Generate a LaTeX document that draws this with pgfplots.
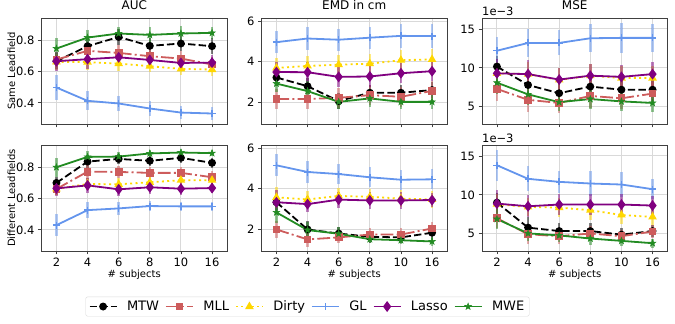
\documentclass[border=0pt]{standalone}
\usepackage{fontspec}
\setmainfont{DejaVu Sans}
\usepackage{pgfplots}
\pgfplotsset{compat=1.18}
\usetikzlibrary{plotmarks}

\definecolor{cMLL}{RGB}{205,92,92}
\definecolor{cDirty}{RGB}{255,215,0}
\definecolor{cGL}{RGB}{100,149,237}
\definecolor{cLasso}{RGB}{128,0,128}
\definecolor{cMWE}{RGB}{34,139,34}

% filled five-pointed star
\pgfdeclareplotmark{fstar}{%
  \pgfpathmoveto{\pgfqpointpolar{90}{\pgfplotmarksize}}%
  \pgfpathlineto{\pgfqpointpolar{126}{0.4\pgfplotmarksize}}%
  \pgfpathlineto{\pgfqpointpolar{162}{\pgfplotmarksize}}%
  \pgfpathlineto{\pgfqpointpolar{198}{0.4\pgfplotmarksize}}%
  \pgfpathlineto{\pgfqpointpolar{234}{\pgfplotmarksize}}%
  \pgfpathlineto{\pgfqpointpolar{270}{0.4\pgfplotmarksize}}%
  \pgfpathlineto{\pgfqpointpolar{306}{\pgfplotmarksize}}%
  \pgfpathlineto{\pgfqpointpolar{342}{0.4\pgfplotmarksize}}%
  \pgfpathlineto{\pgfqpointpolar{18}{\pgfplotmarksize}}%
  \pgfpathlineto{\pgfqpointpolar{54}{0.4\pgfplotmarksize}}%
  \pgfpathclose
  \pgfusepathqfillstroke
}

\pgfplotsset{
  panel/.style={
    scale only axis, width=185.5pt, height=106pt,
    xmin=-0.48, xmax=5.48, xtick={0,...,5}, xticklabels={2,4,6,8,10,16},
    tick align=outside, major tick length=3.5pt,
    xtick pos=bottom, ytick pos=left,
    grid=major, grid style={color=black!15, line width=1pt},
    axis line style={black!75, line width=0.8pt},
    every tick/.style={black!75, line width=0.8pt},
    ticklabel style={font=\fontsize{11.5}{13}\selectfont},
    /pgf/number format/assume math mode=true,
    label style={font=\fontsize{11.5}{13}\selectfont},
    title style={font=\fontsize{12}{14}\selectfont, yshift=-1pt},
    every axis y label/.style={at={(axis description cs:0,0.5)}, xshift=-30pt, rotate=90, anchor=center},
    every axis x label/.style={at={(axis description cs:0.5,0)}, yshift=-24pt, anchor=center},
    legend image code/.code={\draw[mark repeat=2,mark phase=2] plot coordinates {(0pt,0pt) (13.5pt,0pt) (27pt,0pt)};},
  },
  toprow/.style={xticklabels={}},
  auc/.style={ymin=0.265, ymax=0.942, ytick={0.4,0.6,0.8},
    yticklabel style={/pgf/number format/.cd, fixed, precision=1, fixed zerofill}},
  emd/.style={ymin=0.93, ymax=6.15, ytick={2,4,6}},
  mse/.style={ymin=2.8, ymax=16.4, ytick={5,10,15}},
  eb/.style={error bars/.cd, y dir=both, y explicit, error mark=none,
    error bar style={line width=2.6pt, opacity=0.5, solid}},
  mtw/.style={black, line width=1.8pt, dash pattern=on 7.4pt off 3.2pt, mark=*, mark size=3pt, mark options={solid}, eb},
  mll/.style={cMLL, line width=1.8pt, dash pattern=on 12.8pt off 3.2pt on 2pt off 3.2pt, mark=square*, mark size=3pt, mark options={solid}, eb},
  dirty/.style={cDirty, line width=1.8pt, dash pattern=on 2pt off 3.3pt, mark=triangle*, mark size=3.2pt, mark options={solid}, eb},
  gl/.style={cGL, line width=1.8pt, mark=+, mark size=3.5pt, mark options={solid, line width=1.5pt}, eb},
  lasso/.style={cLasso, line width=1.8pt, mark=diamond*, mark size=4pt, mark options={solid}, eb},
  mwe/.style={cMWE, line width=1.8pt, mark=fstar, mark size=3.5pt, mark options={solid, line width=0.5pt}, eb},
}

\begin{document}
\begin{tikzpicture}
\path[use as bounding box] (0pt,0pt) rectangle (675pt,324pt);

% ---------------- top row: Same Leadfield ----------------
\begin{axis}[panel, toprow, auc, at={(41.5pt,200pt)}, anchor=south west,
  title={AUC}, ylabel={Same Leadfield}]
\addplot[mtw] coordinates {(0,0.666)+-(0,0.05) (1,0.762)+-(0,0.05) (2,0.821)+-(0,0.05) (3,0.764)+-(0,0.05) (4,0.779)+-(0,0.05) (5,0.762)+-(0,0.05)};
\addplot[mll] coordinates {(0,0.677)+-(0,0.05) (1,0.732)+-(0,0.05) (2,0.719)+-(0,0.05) (3,0.698)+-(0,0.05) (4,0.683)+-(0,0.05) (5,0.645)+-(0,0.05)};
\addplot[dirty] coordinates {(0,0.662)+-(0,0.05) (1,0.660)+-(0,0.05) (2,0.651)+-(0,0.05) (3,0.634)+-(0,0.04) (4,0.617)+-(0,0.04) (5,0.613)+-(0,0.04)};
\addplot[gl] coordinates {(0,0.498)+-(0,0.08) (1,0.413)+-(0,0.06) (2,0.396)+-(0,0.05) (3,0.364)+-(0,0.05) (4,0.338)+-(0,0.04) (5,0.332)+-(0,0.04)};
\addplot[lasso] coordinates {(0,0.666)+-(0,0.06) (1,0.679)+-(0,0.06) (2,0.691)+-(0,0.05) (3,0.674)+-(0,0.05) (4,0.655)+-(0,0.05) (5,0.657)+-(0,0.05)};
\addplot[mwe] coordinates {(0,0.747)+-(0,0.07) (1,0.817)+-(0,0.05) (2,0.843)+-(0,0.04) (3,0.834)+-(0,0.05) (4,0.843)+-(0,0.05) (5,0.847)+-(0,0.04)};
\end{axis}

\begin{axis}[panel, toprow, emd, at={(261.5pt,200pt)}, anchor=south west,
  title={EMD in cm}]
\addplot[mtw] coordinates {(0,3.22)+-(0,0.4) (1,2.79)+-(0,0.4) (2,2.06)+-(0,0.4) (3,2.47)+-(0,0.4) (4,2.47)+-(0,0.4) (5,2.60)+-(0,0.4)};
\addplot[mll] coordinates {(0,2.16)+-(0,0.5) (1,2.16)+-(0,0.5) (2,2.22)+-(0,0.5) (3,2.35)+-(0,0.5) (4,2.27)+-(0,0.5) (5,2.56)+-(0,0.5)};
\addplot[dirty] coordinates {(0,3.69)+-(0,0.5) (1,3.79)+-(0,0.5) (2,3.85)+-(0,0.5) (3,3.90)+-(0,0.5) (4,4.07)+-(0,0.5) (5,4.11)+-(0,0.5)};
\addplot[gl] coordinates {(0,4.96)+-(0,0.55) (1,5.14)+-(0,0.55) (2,5.08)+-(0,0.55) (3,5.18)+-(0,0.55) (4,5.27)+-(0,0.6) (5,5.26)+-(0,0.6)};
\addplot[lasso] coordinates {(0,3.49)+-(0,0.5) (1,3.48)+-(0,0.5) (2,3.25)+-(0,0.5) (3,3.27)+-(0,0.5) (4,3.43)+-(0,0.5) (5,3.53)+-(0,0.5)};
\addplot[mwe] coordinates {(0,2.92)+-(0,0.4) (1,2.55)+-(0,0.5) (2,2.02)+-(0,0.35) (3,2.19)+-(0,0.4) (4,2.02)+-(0,0.35) (5,2.02)+-(0,0.35)};
\end{axis}

\begin{axis}[panel, toprow, mse, at={(482pt,200pt)}, anchor=south west,
  title={MSE}, name=mseA]
\addplot[mtw] coordinates {(0,10.17)+-(0,1.4) (1,7.8)+-(0,1.4) (2,6.75)+-(0,1.4) (3,7.6)+-(0,1.4) (4,7.2)+-(0,1.4) (5,7.2)+-(0,1.4)};
\addplot[mll] coordinates {(0,7.3)+-(0,1.5) (1,5.9)+-(0,1.5) (2,5.5)+-(0,1.3) (3,6.4)+-(0,1.5) (4,6.1)+-(0,1.4) (5,6.7)+-(0,1.5)};
\addplot[dirty] coordinates {(0,9.3)+-(0,1.5) (1,9.2)+-(0,1.5) (2,8.45)+-(0,1.5) (3,9.0)+-(0,1.5) (4,8.7)+-(0,1.5) (5,8.7)+-(0,1.5)};
\addplot[gl] coordinates {(0,12.2)+-(0,1.8) (1,13.2)+-(0,1.8) (2,13.2)+-(0,1.6) (3,13.8)+-(0,1.8) (4,13.85)+-(0,1.9) (5,13.85)+-(0,1.8)};
\addplot[lasso] coordinates {(0,9.3)+-(0,1.8) (1,9.2)+-(0,1.8) (2,8.5)+-(0,1.5) (3,9.0)+-(0,1.5) (4,8.85)+-(0,1.5) (5,9.2)+-(0,1.6)};
\addplot[mwe] coordinates {(0,8.1)+-(0,1.5) (1,6.6)+-(0,1.4) (2,5.6)+-(0,1.1) (3,6.0)+-(0,1.3) (4,5.7)+-(0,1.2) (5,5.5)+-(0,1.2)};
\end{axis}
\node[anchor=south west, inner sep=0pt, yshift=2.5pt, font=\fontsize{11.5}{13}\selectfont] at (mseA.north west) {1e−3};

% ---------------- bottom row: Different Leadfields ----------------
\begin{axis}[panel, auc, at={(41.5pt,73pt)}, anchor=south west,
  ylabel={Different Leadfields}, xlabel={\# subjects},
  legend style={at={(1.434,-0.524)}, anchor=center, legend columns=6,
    draw=black!15, rounded corners=2pt, fill=white,
    font=\fontsize{13}{15}\selectfont,
    /tikz/every odd column/.append style={column sep=7.5pt},
    /tikz/every even column/.append style={column sep=4pt}}]
\addplot[mtw] coordinates {(0,0.700)+-(0,0.04) (1,0.836)+-(0,0.04) (2,0.853)+-(0,0.03) (3,0.841)+-(0,0.03) (4,0.860)+-(0,0.03) (5,0.828)+-(0,0.03)};
\addlegendentry{MTW}
\addplot[mll] coordinates {(0,0.661)+-(0,0.04) (1,0.772)+-(0,0.05) (2,0.770)+-(0,0.04) (3,0.764)+-(0,0.04) (4,0.764)+-(0,0.04) (5,0.736)+-(0,0.04)};
\addlegendentry{MLL}
\addplot[dirty] coordinates {(0,0.661)+-(0,0.04) (1,0.693)+-(0,0.04) (2,0.691)+-(0,0.04) (3,0.704)+-(0,0.04) (4,0.717)+-(0,0.04) (5,0.717)+-(0,0.04)};
\addlegendentry{Dirty}
\addplot[gl] coordinates {(0,0.430)+-(0,0.07) (1,0.526)+-(0,0.05) (2,0.537)+-(0,0.04) (3,0.552)+-(0,0.03) (4,0.550)+-(0,0.03) (5,0.550)+-(0,0.03)};
\addlegendentry{GL}
\addplot[lasso] coordinates {(0,0.665)+-(0,0.05) (1,0.684)+-(0,0.05) (2,0.659)+-(0,0.04) (3,0.672)+-(0,0.04) (4,0.663)+-(0,0.04) (5,0.667)+-(0,0.03)};
\addlegendentry{Lasso}
\addplot[mwe] coordinates {(0,0.800)+-(0,0.06) (1,0.866)+-(0,0.04) (2,0.868)+-(0,0.03) (3,0.888)+-(0,0.02) (4,0.894)+-(0,0.02) (5,0.890)+-(0,0.02)};
\addlegendentry{MWE}
\end{axis}

\begin{axis}[panel, emd, at={(261.5pt,73pt)}, anchor=south west,
  xlabel={\# subjects}]
\addplot[mtw] coordinates {(0,3.33)+-(0,0.4) (1,1.99)+-(0,0.4) (2,1.79)+-(0,0.3) (3,1.63)+-(0,0.3) (4,1.60)+-(0,0.3) (5,1.83)+-(0,0.3)};
\addplot[mll] coordinates {(0,1.99)+-(0,0.4) (1,1.50)+-(0,0.35) (2,1.60)+-(0,0.3) (3,1.74)+-(0,0.3) (4,1.74)+-(0,0.3) (5,2.04)+-(0,0.3)};
\addplot[dirty] coordinates {(0,3.57)+-(0,0.5) (1,3.47)+-(0,0.4) (2,3.64)+-(0,0.4) (3,3.60)+-(0,0.4) (4,3.51)+-(0,0.4) (5,3.47)+-(0,0.4)};
\addplot[gl] coordinates {(0,5.15)+-(0,0.55) (1,4.82)+-(0,0.55) (2,4.72)+-(0,0.5) (3,4.56)+-(0,0.5) (4,4.44)+-(0,0.5) (5,4.46)+-(0,0.5)};
\addplot[lasso] coordinates {(0,3.33)+-(0,0.6) (1,3.24)+-(0,0.4) (2,3.46)+-(0,0.4) (3,3.42)+-(0,0.4) (4,3.42)+-(0,0.4) (5,3.44)+-(0,0.35)};
\addplot[mwe] coordinates {(0,2.83)+-(0,0.5) (1,1.96)+-(0,0.4) (2,1.78)+-(0,0.35) (3,1.51)+-(0,0.2) (4,1.46)+-(0,0.2) (5,1.40)+-(0,0.2)};
\end{axis}

\begin{axis}[panel, mse, at={(482pt,73pt)}, anchor=south west,
  xlabel={\# subjects}, name=mseB]
\addplot[mtw] coordinates {(0,9.0)+-(0,1.3) (1,5.8)+-(0,1.3) (2,5.36)+-(0,1.0) (3,5.36)+-(0,1.0) (4,4.9)+-(0,0.8) (5,5.36)+-(0,0.8)};
\addplot[mll] coordinates {(0,7.0)+-(0,1.2) (1,4.95)+-(0,1.2) (2,4.7)+-(0,1.0) (3,5.05)+-(0,1.0) (4,4.7)+-(0,0.8) (5,5.3)+-(0,0.8)};
\addplot[dirty] coordinates {(0,8.8)+-(0,1.3) (1,8.45)+-(0,1.2) (2,8.37)+-(0,1.2) (3,8.03)+-(0,1.2) (4,7.42)+-(0,1.1) (5,7.17)+-(0,1.0)};
\addplot[gl] coordinates {(0,13.8)+-(0,2.0) (1,12.06)+-(0,1.6) (2,11.67)+-(0,1.4) (3,11.46)+-(0,1.6) (4,11.33)+-(0,1.6) (5,10.73)+-(0,1.3)};
\addplot[lasso] coordinates {(0,8.88)+-(0,1.7) (1,8.54)+-(0,1.4) (2,8.76)+-(0,1.3) (3,8.76)+-(0,1.3) (4,8.76)+-(0,1.3) (5,8.63)+-(0,1.2)};
\addplot[mwe] coordinates {(0,6.9)+-(0,1.3) (1,5.06)+-(0,1.0) (2,4.8)+-(0,0.8) (3,4.4)+-(0,0.8) (4,4.1)+-(0,0.7) (5,3.8)+-(0,0.6)};
\end{axis}
\node[anchor=south west, inner sep=0pt, yshift=2.5pt, font=\fontsize{11.5}{13}\selectfont] at (mseB.north west) {1e−3};
\end{tikzpicture}
\end{document}
